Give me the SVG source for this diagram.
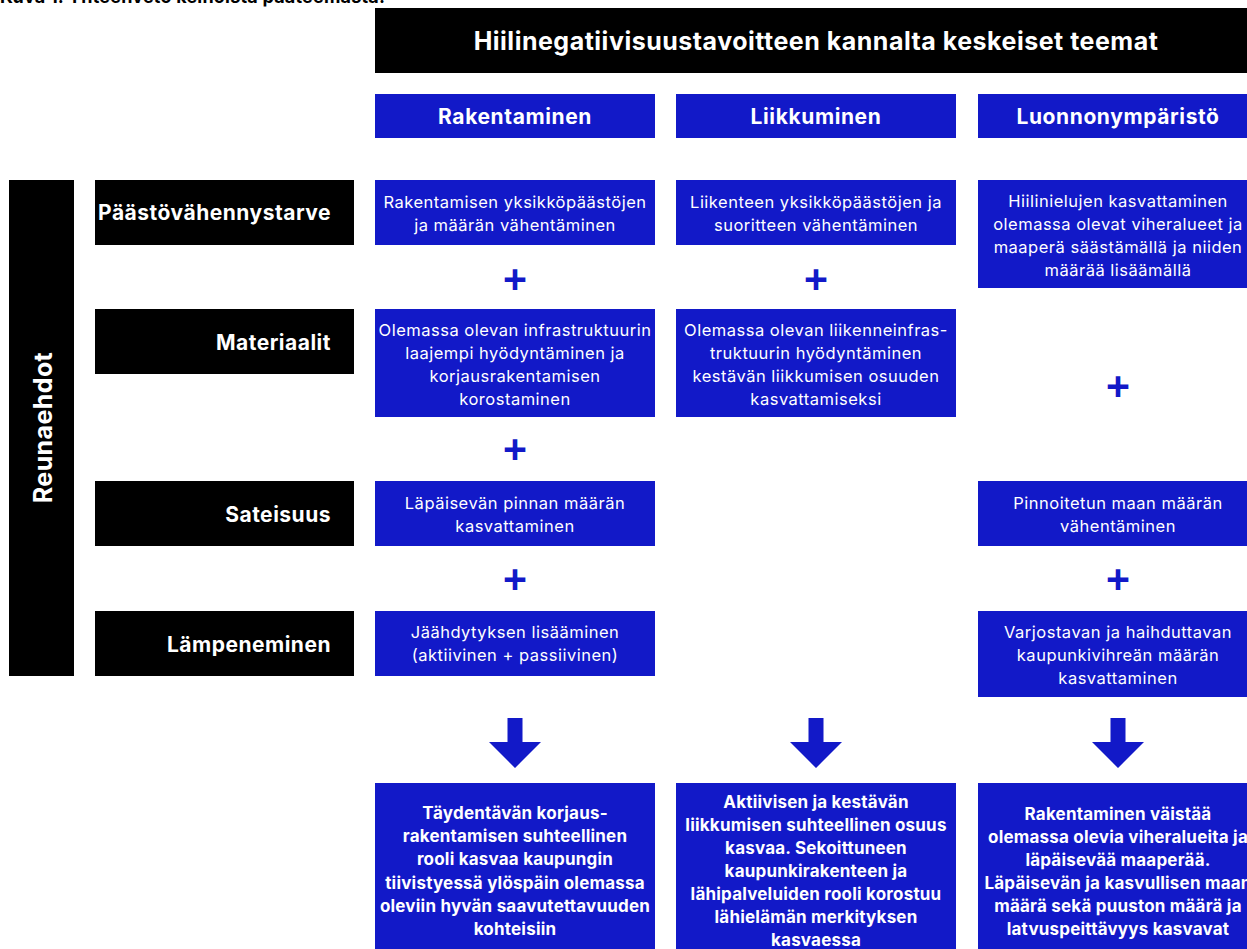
<svg xmlns="http://www.w3.org/2000/svg" width="1247" height="949" viewBox="0 0 1247 949">
<style>
.blk{fill:#000}
.blu{fill:#1219c8}
.cap{font-family:Inter,"Liberation Sans",sans-serif;font-weight:700;font-size:18px;letter-spacing:0.2px;fill:#000}
.title{font-family:Inter,"Liberation Sans",sans-serif;font-weight:700;font-size:25px;letter-spacing:0.5px;fill:#fff;text-anchor:middle}
.colh{font-family:Inter,"Liberation Sans",sans-serif;font-weight:700;font-size:21px;letter-spacing:0.6px;fill:#fff;text-anchor:middle}
.rowl{font-family:Inter,"Liberation Sans",sans-serif;font-weight:700;font-size:21px;letter-spacing:0.5px;fill:#fff;text-anchor:end}
.side{font-family:Inter,"Liberation Sans",sans-serif;font-weight:700;font-size:25px;letter-spacing:0.4px;fill:#fff;text-anchor:middle}
.bt{font-family:Inter,"Liberation Sans",sans-serif;font-weight:400;font-size:16.5px;letter-spacing:0.5px;fill:#fff;text-anchor:middle}
.bb{font-family:Inter,"Liberation Sans",sans-serif;font-weight:700;font-size:17px;letter-spacing:0.2px;fill:#fff;text-anchor:middle}
.plus{font-family:"Liberation Sans",Arial,sans-serif;font-weight:700;font-size:41px;fill:#1219c8;text-anchor:middle}
.arr{fill:#1219c8}
</style>

<g id="caption"><text class="cap" x="0" y="3">Kuva 1. Yhteenveto keinoista pääteemasta.</text></g>

<g id="header">
<rect class="blk" x="375" y="8" width="883" height="65"/>
<text class="title" x="816" y="50">Hiilinegatiivisuustavoitteen kannalta keskeiset teemat</text>
</g>

<g id="col-rakentaminen"><rect class="blu" x="375" y="94" width="280" height="44"/><text class="colh" x="515" y="123.5">Rakentaminen</text></g>
<g id="col-liikkuminen"><rect class="blu" x="676" y="94" width="280" height="44"/><text class="colh" x="816" y="123.5">Liikkuminen</text></g>
<g id="col-luonnonymparisto"><rect class="blu" x="978" y="94" width="280" height="44"/><text class="colh" x="1118" y="123.5">Luonnonympäristö</text></g>

<g id="reunaehdot">
<rect class="blk" x="9" y="180" width="65" height="496"/>
<text class="side" transform="translate(52 427.5) rotate(-90)" x="0" y="0">Reunaehdot</text>
</g>

<g id="row-paastovahennystarve"><rect class="blk" x="95" y="180" width="259" height="65"/><text class="rowl" x="331" y="220">Päästövähennystarve</text></g>
<g id="row-materiaalit"><rect class="blk" x="95" y="309" width="259" height="65"/><text class="rowl" x="331" y="349.5">Materiaalit</text></g>
<g id="row-sateisuus"><rect class="blk" x="95" y="481" width="259" height="65"/><text class="rowl" x="331" y="521.5">Sateisuus</text></g>
<g id="row-lampeneminen"><rect class="blk" x="95" y="611" width="259" height="65"/><text class="rowl" x="331" y="651.5">Lämpeneminen</text></g>

<g id="rak-paasto"><rect class="blu" x="375" y="180" width="280" height="65"/>
<text class="bt" x="515" y="207.5">Rakentamisen yksikköpäästöjen</text>
<text class="bt" x="515" y="230.5">ja määrän vähentäminen</text></g>

<g id="rak-materiaalit"><rect class="blu" x="375" y="309" width="280" height="108"/>
<text class="bt" x="515" y="335.5">Olemassa olevan infrastruktuurin</text>
<text class="bt" x="515" y="358.5">laajempi hyödyntäminen ja</text>
<text class="bt" x="515" y="381.5">korjausrakentamisen</text>
<text class="bt" x="515" y="404.5">korostaminen</text></g>

<g id="rak-sateisuus"><rect class="blu" x="375" y="481" width="280" height="65"/>
<text class="bt" x="515" y="508.5">Läpäisevän pinnan määrän</text>
<text class="bt" x="515" y="531.5">kasvattaminen</text></g>

<g id="rak-lampeneminen"><rect class="blu" x="375" y="611" width="280" height="65"/>
<text class="bt" x="515" y="637.5">Jäähdytyksen lisääminen</text>
<text class="bt" x="515" y="660.5">(aktiivinen + passiivinen)</text></g>

<g id="lii-paasto"><rect class="blu" x="676" y="180" width="280" height="65"/>
<text class="bt" x="816" y="207.5">Liikenteen yksikköpäästöjen ja</text>
<text class="bt" x="816" y="230.5">suoritteen vähentäminen</text></g>

<g id="lii-materiaalit"><rect class="blu" x="676" y="309" width="280" height="108"/>
<text class="bt" x="816" y="335.5">Olemassa olevan liikenneinfras-</text>
<text class="bt" x="816" y="358.5">truktuurin hyödyntäminen</text>
<text class="bt" x="816" y="381.5">kestävän liikkumisen osuuden</text>
<text class="bt" x="816" y="404.5">kasvattamiseksi</text></g>

<g id="luo-paasto"><rect class="blu" x="978" y="180" width="280" height="108"/>
<text class="bt" x="1118" y="206.5">Hiilinielujen kasvattaminen</text>
<text class="bt" x="1118" y="229.5">olemassa olevat viheralueet ja</text>
<text class="bt" x="1118" y="252.5">maaperä säästämällä ja niiden</text>
<text class="bt" x="1118" y="275.5">määrää lisäämällä</text></g>

<g id="luo-sateisuus"><rect class="blu" x="978" y="481" width="280" height="65"/>
<text class="bt" x="1118" y="508.5">Pinnoitetun maan määrän</text>
<text class="bt" x="1118" y="531.5">vähentäminen</text></g>

<g id="luo-lampeneminen"><rect class="blu" x="978" y="611" width="280" height="86"/>
<text class="bt" x="1118" y="637.5">Varjostavan ja haihduttavan</text>
<text class="bt" x="1118" y="660.5">kaupunkivihreän määrän</text>
<text class="bt" x="1118" y="683.5">kasvattaminen</text></g>

<g id="plus-signs">
<text class="plus" x="515" y="292.5">+</text>
<text class="plus" x="515" y="463">+</text>
<text class="plus" x="515" y="592.5">+</text>
<text class="plus" x="816" y="292.5">+</text>
<text class="plus" x="1118" y="400">+</text>
<text class="plus" x="1118" y="592.5">+</text>
</g>

<g id="connectors">
<polygon class="arr" points="507.5,718 522.5,718 522.5,742 541,742 515,768 489,742 507.5,742"/>
<polygon class="arr" points="808.5,718 823.5,718 823.5,742 842,742 816,768 790,742 808.5,742"/>
<polygon class="arr" points="1110.5,718 1125.5,718 1125.5,742 1144,742 1118,768 1092,742 1110.5,742"/>
</g>

<g id="rak-tulos"><rect class="blu" x="375" y="783" width="280" height="180"/>
<text class="bb" x="515" y="819">Täydentävän korjaus-</text>
<text class="bb" x="515" y="842.2">rakentamisen suhteellinen</text>
<text class="bb" x="515" y="865.4">rooli kasvaa kaupungin</text>
<text class="bb" x="515" y="888.6">tiivistyessä ylöspäin olemassa</text>
<text class="bb" x="515" y="911.8">oleviin hyvän saavutettavuuden</text>
<text class="bb" x="515" y="935">kohteisiin</text></g>

<g id="lii-tulos"><rect class="blu" x="676" y="783" width="280" height="180"/>
<text class="bb" x="816" y="808">Aktiivisen ja kestävän</text>
<text class="bb" x="816" y="831">liikkumisen suhteellinen osuus</text>
<text class="bb" x="816" y="854">kasvaa. Sekoittuneen</text>
<text class="bb" x="816" y="877">kaupunkirakenteen ja</text>
<text class="bb" x="816" y="900">lähipalveluiden rooli korostuu</text>
<text class="bb" x="816" y="923">lähielämän merkityksen</text>
<text class="bb" x="816" y="946">kasvaessa</text></g>

<g id="luo-tulos"><rect class="blu" x="978" y="783" width="280" height="180"/>
<text class="bb" x="1118" y="820">Rakentaminen väistää</text>
<text class="bb" x="1118" y="843">olemassa olevia viheralueita ja</text>
<text class="bb" x="1118" y="866">läpäisevää maaperää.</text>
<text class="bb" x="1118" y="889">Läpäisevän ja kasvullisen maan</text>
<text class="bb" x="1118" y="912">määrä sekä puuston määrä ja</text>
<text class="bb" x="1118" y="935">latvuspeittävyys kasvavat</text></g>
</svg>
